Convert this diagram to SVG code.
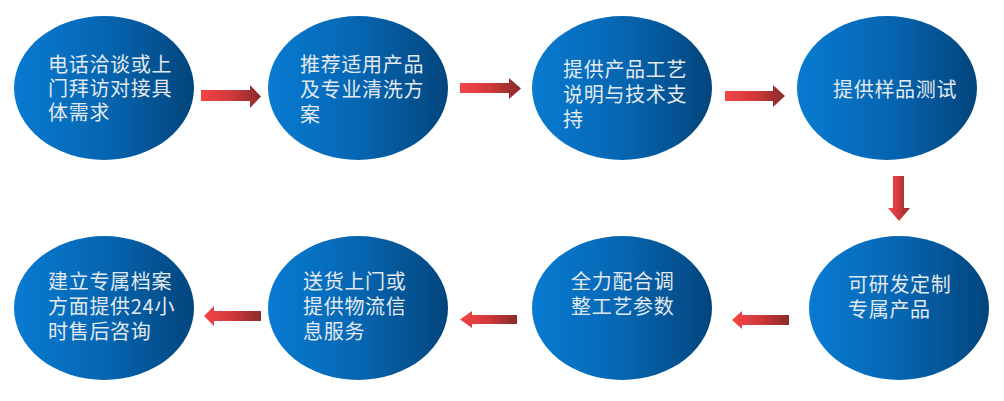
<svg xmlns="http://www.w3.org/2000/svg" width="1004" height="401" viewBox="0 0 1004 401">
<defs>
<linearGradient id="eg" x1="0" y1="0" x2="1" y2="0">
<stop offset="0" stop-color="#087bd2"/>
<stop offset="0.5" stop-color="#0666b2"/>
<stop offset="1" stop-color="#03457c"/>
</linearGradient>
<linearGradient id="ag" x1="0" y1="0" x2="1" y2="0">
<stop offset="0" stop-color="#f64446"/>
<stop offset="0.5" stop-color="#cf393b"/>
<stop offset="1" stop-color="#8a2a2a"/>
</linearGradient>
<style>
.n ellipse{fill:url(#eg);}
.n text{font-family:"Noto Sans CJK SC","Liberation Sans",sans-serif;font-size:20px;letter-spacing:0.7px;fill:#e3e9ef;}
.a{fill:url(#ag);}
</style>
</defs>
<g id="n1" class="n"><ellipse cx="104" cy="88" rx="90" ry="72"/>
<text><tspan x="48" y="72">电话洽谈或上</tspan><tspan x="48" y="96">门拜访对接具</tspan><tspan x="48" y="120">体需求</tspan></text></g>
<g id="n2" class="n"><ellipse cx="358" cy="88" rx="90" ry="72"/>
<text><tspan x="300" y="72">推荐适用产品</tspan><tspan x="300" y="97">及专业清洗方</tspan><tspan x="300" y="122">案</tspan></text></g>
<g id="n3" class="n"><ellipse cx="622" cy="88" rx="90" ry="72"/>
<text><tspan x="563" y="77">提供产品工艺</tspan><tspan x="563" y="102">说明与技术支</tspan><tspan x="563" y="127">持</tspan></text></g>
<g id="n4" class="n"><ellipse cx="887" cy="88" rx="90" ry="72"/>
<text x="833" y="97">提供样品测试</text></g>
<g id="n5" class="n"><ellipse cx="899" cy="308" rx="90" ry="72"/>
<text><tspan x="848" y="292">可研发定制</tspan><tspan x="848" y="317">专属产品</tspan></text></g>
<g id="n6" class="n"><ellipse cx="622" cy="308" rx="90" ry="72"/>
<text><tspan x="571" y="289">全力配合调</tspan><tspan x="571" y="314">整工艺参数</tspan></text></g>
<g id="n7" class="n"><ellipse cx="358" cy="308" rx="90" ry="72"/>
<text><tspan x="303" y="289">送货上门或</tspan><tspan x="303" y="314">提供物流信</tspan><tspan x="303" y="339">息服务</tspan></text></g>
<g id="n8" class="n"><ellipse cx="104" cy="308" rx="90" ry="72"/>
<text><tspan x="48" y="289">建立专属档案</tspan><tspan x="48" y="314">方面提供24小</tspan><tspan x="48" y="339">时售后咨询</tspan></text></g>
<g id="connectors">
<polygon class="a" points="201,90 250,90 250,85 261,96.5 250,108 250,101 201,101"/>
<polygon class="a" points="460,83 509,83 509,78 521,88.5 509,99 509,93 460,93"/>
<polygon class="a" points="725,91 773,91 773,85 785,96 773,107 773,101 725,101"/>
<polygon class="a" points="893,176 904,176 904,208 910,208 899,221 888,208 893,208"/>
<polygon class="a" points="789,315 789,325 742,325 742,329 732,320 742,311 742,315"/>
<polygon class="a" points="517,315 517,324 472,324 472,328 460,319.5 472,311 472,315"/>
<polygon class="a" points="261,311 261,321 214,321 214,326 204,316 214,306 214,311"/>
</g>
</svg>
